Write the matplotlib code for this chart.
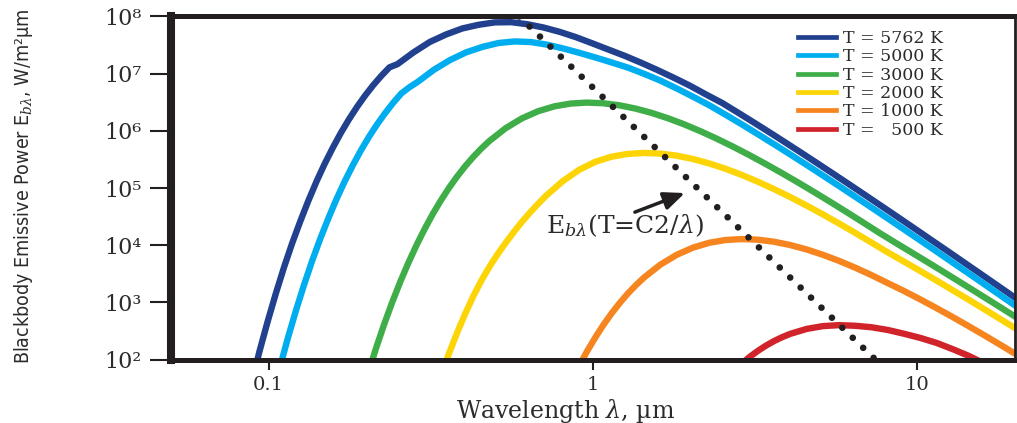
import matplotlib
matplotlib.use("Agg")
import matplotlib.pyplot as plt
from matplotlib.ticker import NullLocator

# Blackbody spectral emissive power (W/m^2.um) against wavelength (um)
wl_5762 = [0.0886, 0.0938, 0.0994, 0.1053, 0.1115, 0.1181, 0.1252, 0.1326, 0.1404, 0.1487,
           0.1576, 0.1669, 0.1768, 0.1873, 0.1984, 0.2101, 0.2226, 0.2357, 0.2497, 0.2801,
           0.3143, 0.3527, 0.3957, 0.4440, 0.4982, 0.5590, 0.6272, 0.7037, 0.7896, 0.8860,
           0.9941, 1.115, 1.252, 1.404, 1.576, 1.768, 1.984, 2.226, 2.497, 2.801,
           3.143, 3.527, 3.957, 4.440, 4.982, 5.590, 6.272, 7.037, 7.896, 8.860,
           9.941, 11.15, 12.52, 14.04, 15.76, 17.68, 19.84, 22.25]
eb_5762 = [39.4, 143, 475, 1453, 4106, 1.077e4, 2.634e4, 6.031e4, 1.297e5, 2.630e5,
           5.044e5, 9.180e5, 1.589e6, 2.628e6, 4.155e6, 6.300e6, 9.183e6, 1.290e7, 1.472e7, 2.373e7,
           3.600e7, 4.862e7, 6.187e7, 7.166e7, 7.891e7, 7.962e7, 7.330e7, 6.422e7, 5.386e7, 4.351e7,
           3.401e7, 2.646e7, 2.055e7, 1.563e7, 1.167e7, 8.584e6, 6.226e6, 4.362e6, 3.096e6, 2.080e6,
           1.387e6, 9.19e5, 6.05e5, 3.965e5, 2.585e5, 1.68e5, 1.088e5, 7.025e4, 4.523e4, 2.906e4,
           1.863e4, 1.192e4, 7619, 4862, 3097, 1972, 1254, 796]

wl_5000 = [0.1081, 0.1145, 0.1213, 0.1285, 0.1361, 0.1442, 0.1528, 0.1618, 0.1714, 0.1816,
           0.1923, 0.2037, 0.2158, 0.2286, 0.2421, 0.2565, 0.2716, 0.2878, 0.3229, 0.3623,
           0.4065, 0.4561, 0.5117, 0.5741, 0.6442, 0.7228, 0.8110, 0.9100, 1.021, 1.146,
           1.285, 1.442, 1.618, 1.816, 2.037, 2.286, 2.565, 2.878, 3.229, 3.623,
           4.065, 4.561, 5.117, 5.741, 6.442, 7.228, 8.110, 9.100, 10.21, 11.46,
           12.85, 14.43, 16.19, 18.16, 20.38, 22.86]
eb_5000 = [70.4, 233.8, 714.8, 2020, 5297, 1.296e4, 2.967e4, 6.381e4, 1.294e5, 2.482e5,
           4.517e5, 7.820e5, 1.293e6, 2.044e6, 3.099e6, 4.519e6, 5.789e6, 7.161e6, 1.168e7, 1.731e7,
           2.364e7, 2.941e7, 3.445e7, 3.666e7, 3.573e7, 3.215e7, 2.753e7, 2.308e7, 1.909e7, 1.562e7,
           1.272e7, 9.883e6, 7.516e6, 5.485e6, 3.941e6, 2.794e6, 1.913e6, 1.297e6, 8.712e5, 5.808e5,
           3.847e5, 2.533e5, 1.660e5, 1.083e5, 7.037e4, 4.557e4, 2.942e4, 1.894e4, 1.217e4, 7802,
           4994, 3190, 2035, 1297, 825.6, 525.2]

wl_3000 = [0.2022, 0.2142, 0.2269, 0.2404, 0.2546, 0.2698, 0.2857, 0.3027, 0.3205, 0.3396,
           0.3596, 0.3810, 0.4035, 0.4275, 0.4528, 0.4797, 0.5382, 0.6039, 0.6776, 0.7602,
           0.8530, 0.9570, 1.074, 1.205, 1.352, 1.517, 1.702, 1.910, 2.143, 2.404,
           2.698, 3.027, 3.396, 3.810, 4.275, 4.797, 5.382, 6.039, 6.776, 7.602,
           8.530, 9.570, 10.74, 12.05, 13.52, 15.17, 17.02, 19.09, 21.42, 24.03]
eb_3000 = [55.6, 157.0, 411.9, 1008, 2307, 4962, 1.006e4, 1.930e4, 3.512e4, 6.081e4,
           1.005e5, 1.589e5, 2.410e5, 3.513e5, 4.935e5, 6.694e5, 1.117e6, 1.656e6, 2.210e6, 2.687e6,
           3.006e6, 3.125e6, 3.046e6, 2.804e6, 2.457e6, 2.061e6, 1.665e6, 1.302e6, 9.892e5, 7.338e5,
           5.329e5, 3.801e5, 2.669e5, 1.849e5, 1.266e5, 8.581e4, 5.767e4, 3.844e4, 2.546e4, 1.677e4,
           1.122e4, 7579, 5097, 3417, 2284, 1522, 1012, 671.7, 445.0, 294.4]

wl_2000 = [0.3403, 0.3605, 0.3819, 0.4045, 0.4285, 0.4539, 0.4807, 0.5093, 0.5394, 0.5714,
           0.6052, 0.6412, 0.6792, 0.7194, 0.8072, 0.9057, 1.016, 1.140, 1.279, 1.436,
           1.611, 1.807, 2.028, 2.275, 2.553, 2.864, 3.214, 3.606, 4.046, 4.539,
           5.093, 5.714, 6.412, 7.194, 8.072, 9.057, 10.16, 11.40, 12.79, 14.36,
           16.11, 18.07, 20.28, 22.75]
eb_2000 = [54.2, 132.7, 303.8, 653.4, 1325, 2483, 4315, 7137, 1.126e4, 1.741e4,
           2.610e4, 3.804e4, 5.405e4, 7.504e4, 1.326e5, 2.082e5, 2.877e5, 3.539e5, 3.960e5, 4.117e5,
           4.012e5, 3.693e5, 3.236e5, 2.713e5, 2.192e5, 1.713e5, 1.303e5, 9.663e4, 7.019e4, 5.005e4,
           3.514e4, 2.435e4, 1.667e4, 1.130e4, 7627, 5264, 3609, 2460, 1669, 1127,
           757.9, 507.9, 339.5, 226.3]

wl_1000 = [0.9078, 0.9616, 1.019, 1.079, 1.143, 1.211, 1.282, 1.359, 1.439, 1.614,
           1.811, 2.033, 2.280, 2.559, 2.871, 3.221, 3.615, 4.056, 4.550, 5.105,
           5.729, 6.428, 7.212, 8.092, 9.079, 10.19, 11.43, 12.83, 14.39, 16.15,
           18.12, 20.32, 22.80]
eb_1000 = [79.4, 144.5, 250.3, 413.6, 654.0, 991.7, 1446, 2031, 2755, 4597,
           6813, 9095, 1.106e4, 1.237e4, 1.286e4, 1.254e4, 1.154e4, 1.011e4, 8480, 6850,
           5356, 4071, 3020, 2193, 1596, 1140, 803.5, 559.8, 386.0, 263.9,
           178.9, 120.6, 80.8]

wl_500 = [2.717, 2.878, 3.048, 3.229, 3.420, 3.623, 3.838, 4.065, 4.561, 5.117,
          5.741, 6.442, 7.228, 8.110, 9.100, 10.21, 11.46, 12.85, 14.43, 16.19]
eb_500 = [63.5, 86.1, 113.0, 143.7, 177.3, 213.0, 248.9, 284.2, 345.6, 386.7,
          401.9, 391.7, 369.0, 330.9, 284.0, 240.3, 196.7, 152.9, 116.1, 84.3]

# Peak locus E_b(T = C2/lambda), straight on log-log axes
wl_locus = [0.592, 7.43]
eb_locus = [1.0e8, 1.0e2]

labels = ["T = 5762 K", "T = 5000 K", "T = 3000 K", "T = 2000 K", "T = 1000 K", "T =   500 K"]
colors = ["#21408e", "#00aeef", "#3fae49", "#fdd406", "#f6851f", "#d1232a"]
series = [(wl_5762, eb_5762), (wl_5000, eb_5000), (wl_3000, eb_3000),
          (wl_2000, eb_2000), (wl_1000, eb_1000), (wl_500, eb_500)]

x_ticks = [0.1, 1, 10]
x_tick_labels = ["0.1", "1", "10"]
y_ticks = [1e2, 1e3, 1e4, 1e5, 1e6, 1e7, 1e8]
y_tick_labels = ["10²", "10³", "10⁴", "10⁵", "10⁶", "10⁷", "10⁸"]

ink = "#231f20"
label_ink = "#2b2b2b"
plt.rcParams["font.family"] = "DejaVu Serif"
plt.rcParams["mathtext.fontset"] = "dejavuserif"

fig = plt.figure(figsize=(10.17, 4.23), dpi=100)
ax = fig.add_axes([171 / 1017, 1 - 359.7 / 423, 844 / 1017, 343.2 / 423])

for (wl, eb), lab, col in zip(series, labels, colors):
    ax.plot(wl, eb, color=col, lw=4.6, label=lab, zorder=2, solid_joinstyle="round")

ax.plot(wl_locus, eb_locus, color=ink, lw=4.8, linestyle=(0, (0.001, 2.17)),
        dash_capstyle="round", zorder=2.3)

ax.set_xscale("log")
ax.set_yscale("log")
ax.set_xlim(0.05, 20)
ax.set_ylim(1e2, 1e8)
ax.set_xticks(x_ticks)
ax.set_xticklabels(x_tick_labels)
ax.set_yticks(y_ticks)
ax.set_yticklabels(y_tick_labels)
ax.xaxis.set_minor_locator(NullLocator())
ax.yaxis.set_minor_locator(NullLocator())

ax.tick_params(axis="y", direction="out", length=15, width=1.5, pad=6,
               labelsize=16, color=ink, labelcolor=label_ink)
ax.tick_params(axis="x", direction="out", length=7.5, width=1.5, pad=4,
               labelsize=14, color=ink, labelcolor=label_ink)

for side, lw in [("left", 5.8), ("bottom", 3.6), ("top", 3.6), ("right", 2.0)]:
    ax.spines[side].set_linewidth(lw)
    ax.spines[side].set_color(ink)

ax.set_xlabel(r"Wavelength $\lambda$, µm", fontsize=17, color=label_ink)
ax.xaxis.set_label_coords(0.468, -0.108)
ax.set_ylabel(r"Blackbody Emissive Power E$_{b\lambda}$, W/m²µm", fontsize=14,
              family="DejaVu Sans", fontstretch="condensed", color=label_ink)
ax.yaxis.set_label_coords(-0.161, 0.506)

ax.annotate("", xy=(1.919, 8.2e4), xytext=(1.346, 3.8e4),
            arrowprops=dict(arrowstyle="-|>,head_length=0.7,head_width=0.3",
                            lw=2.5, color=ink, shrinkA=0, shrinkB=0,
                            mutation_scale=18), zorder=4)
ax.text(1.254, 2.17e4, r"E$_{b\lambda}$(T=C2/$\lambda$)", ha="center", va="center",
        fontsize=18, color=label_ink, zorder=4)

leg = ax.legend(loc="upper left", bbox_to_anchor=(0.743, 0.961), frameon=False,
                fontsize=12.5, handlelength=2.2, handletextpad=0.4, labelspacing=0.08,
                borderpad=0, borderaxespad=0)
for line in leg.get_lines():
    line.set_linewidth(3.4)
for t in leg.get_texts():
    t.set_color(label_ink)

fig.savefig("out.png", dpi=100)
